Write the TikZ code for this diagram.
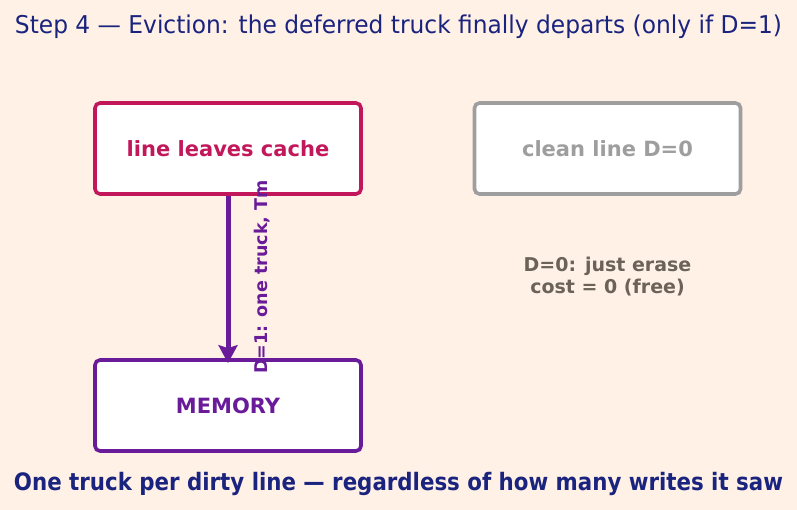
\documentclass[tikz,border=0pt]{standalone}
\usepackage{fontspec}
\setmainfont{DejaVu Sans}
\usetikzlibrary{arrows.meta}
\definecolor{bg}{HTML}{FFF1E6}
\definecolor{navy}{HTML}{1A237E}
\definecolor{crim}{HTML}{C2185B}
\definecolor{purp}{HTML}{6A1B9A}
\definecolor{grayb}{HTML}{9E9E9E}
\definecolor{note}{HTML}{6B6258}
\tikzset{
  box/.style={draw, fill=white, line width=3.6pt, rounded corners=5pt, minimum width=266pt, minimum height=91pt, inner sep=0pt, font=\fontsize{21}{25}\selectfont\bfseries},
}
\begin{document}
\begin{tikzpicture}[x=1pt,y=-1pt]
\fill[bg] (0,0) rectangle (797,510);
\useasboundingbox (0,0) rectangle (797,510);
\node[text=navy, font=\fontsize{24.5}{28}\selectfont] (title) at (398.5,27) {\resizebox{767pt}{\height}{Step 4 — Eviction: the deferred truck finally departs (only if D=1)}};
\node[box, draw=crim, text=crim] (cache) at (228,148.5) {line leaves cache};
\node[box, draw=grayb, text=grayb] (clean) at (607.5,148.5) {clean line D=0};
\node[box, draw=purp, text=purp] (mem) at (228,405.5) {MEMORY};
\draw[purp, line width=5pt, -{Stealth[length=18pt,width=19pt,inset=3pt]}] (cache.south) -- ([yshift=-5pt]mem.north);
\node[text=purp, rotate=90, font=\fontsize{17.5}{20}\selectfont\bfseries] (lbl) at (262,277) {D=1: one truck, Tm};
\node[text=note, align=center, font=\fontsize{19}{22}\selectfont\bfseries] (cost) at (607.5,277) {D=0: just erase\\cost = 0 (free)};
\node[text=navy, font=\fontsize{24}{28}\selectfont\bfseries] (foot) at (398.5,484) {\resizebox{769pt}{\height}{One truck per dirty line — regardless of how many writes it saw}};
\end{tikzpicture}
\end{document}
